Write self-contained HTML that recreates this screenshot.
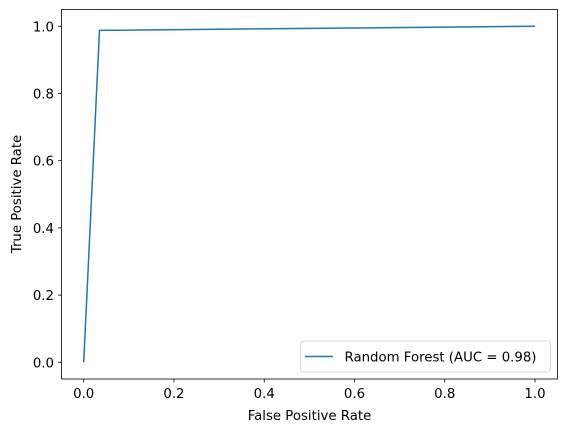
<!DOCTYPE html>
<html><head><meta charset="utf-8"><style>
body{margin:0;background:#fff}
text{font-family:"DejaVu Sans","Liberation Sans",sans-serif;fill:#000}
</style></head><body>
<svg id="chart" width="567" height="432" xmlns="http://www.w3.org/2000/svg">
<rect width="567" height="432" fill="#fff"/>
<g id="ticks"></g>
<polyline id="roc" fill="none" stroke="#1f77b4" stroke-width="1.5" stroke-linejoin="round"/>
<rect x="61.5" y="9.5" width="496" height="369.5" fill="none" stroke="#000" stroke-width="0.8"/>
<text x="309.5" y="420" font-size="13.3" text-anchor="middle">False Positive Rate</text>
<text transform="translate(21,194) rotate(-90)" font-size="13.3" text-anchor="middle">True Positive Rate</text>
<g>
<rect x="300.5" y="341" width="250" height="31" rx="3" fill="#fff" fill-opacity="0.8" stroke="#ccc" stroke-width="0.8"/>
<line x1="305" y1="356.5" x2="333" y2="356.5" stroke="#1f77b4" stroke-width="1.5"/>
<text x="344.5" y="361.5" font-size="13.3">Random Forest (AUC = 0.98)</text>
</g>
</svg>
<script>
const fpr=[0,0.035,1];
const tpr=[0,0.988,1];
const xTicks=[0,0.2,0.4,0.6,0.8,1.0];
const yTicks=[0,0.2,0.4,0.6,0.8,1.0];
const NS="http://www.w3.org/2000/svg";
function sx(v){return 83.7+v*451.3;}
function sy(v){return 362.3-v*336;}
document.getElementById('roc').setAttribute('points',fpr.map((v,i)=>sx(v)+','+sy(tpr[i])).join(' '));
const g=document.getElementById('ticks');
xTicks.forEach(t=>{
 const l=document.createElementNS(NS,'line');
 
 
 l.setAttribute('x1',sx(t));l.setAttribute('x2',sx(t));l.setAttribute('y1',379);l.setAttribute('y2',382.5);l.setAttribute('stroke','#000');l.setAttribute('stroke-width','0.8');g.appendChild(l);
 const tx=document.createElementNS(NS,'text');
 
 
 tx.setAttribute('x',sx(t));tx.setAttribute('y',398);tx.setAttribute('font-size','13.3');tx.setAttribute('text-anchor','middle');tx.textContent=t.toFixed(1);g.appendChild(tx);
});
yTicks.forEach(t=>{
 const l=document.createElementNS(NS,'line');
 
 
 l.setAttribute('x1',58);l.setAttribute('x2',61.5);l.setAttribute('y1',sy(t));l.setAttribute('y2',sy(t));l.setAttribute('stroke','#000');l.setAttribute('stroke-width','0.8');g.appendChild(l);
 const tx=document.createElementNS(NS,'text');
 
 
 tx.setAttribute('x',54);tx.setAttribute('y',sy(t)+5);tx.setAttribute('font-size','13.3');tx.setAttribute('text-anchor','end');tx.textContent=t.toFixed(1);g.appendChild(tx);
});
</script>
</body></html>
